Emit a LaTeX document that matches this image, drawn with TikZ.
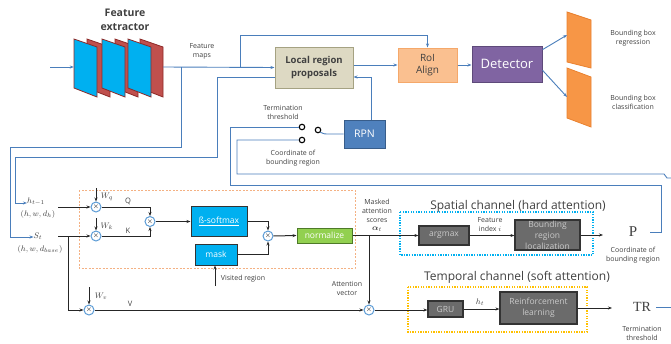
\documentclass[tikz,border=0pt]{standalone}
\usepackage{amsmath}
\usepackage{bm}
\usepackage{fontspec}
\setmainfont{Open Sans}
\newfontfamily\serifP{Liberation Serif}
\usetikzlibrary{arrows.meta}
\definecolor{lnblue}{HTML}{4A7EBB}
\definecolor{multblue}{HTML}{5B9BD5}
\definecolor{redpl}{HTML}{C0504D}
\definecolor{redbd}{HTML}{8E2A28}
\definecolor{cyanpl}{HTML}{00B0F0}
\definecolor{orpl}{HTML}{F79646}
\definecolor{orbd}{HTML}{E9812F}
\definecolor{lrpfill}{HTML}{DDD9C3}
\definecolor{lrpbd}{HTML}{A5A282}
\definecolor{roifill}{HTML}{FAC090}
\definecolor{roibd}{HTML}{F5A86A}
\definecolor{detfill}{HTML}{8064A2}
\definecolor{detbd}{HTML}{5E4A7A}
\definecolor{rpnfill}{HTML}{4F81BD}
\definecolor{rpnbd}{HTML}{385D8A}
\definecolor{normfill}{HTML}{92D050}
\definecolor{normbd}{HTML}{4E7A28}
\definecolor{gfill}{HTML}{6B6B6B}
\definecolor{gtext}{HTML}{C9C9C9}
\definecolor{dashor}{HTML}{F4B183}
\definecolor{dashyl}{HTML}{FFC000}
\definecolor{txt}{HTML}{404040}
\begin{document}
\begin{tikzpicture}[x=1pt,y=-1pt,
  bl/.style={draw=lnblue, line width=0.9pt},
  bk/.style={draw=black!85, line width=1pt},
  tip/.style={-{Stealth[length=4pt,width=3pt]}},
  mult/.style={circle, draw=multblue, fill=white, line width=1pt, minimum size=10pt, inner sep=0pt, font=\fontsize{7}{7}\selectfont},
  lbl/.style={font=\fontsize{7}{9}\selectfont, text=txt, align=center, inner sep=0pt},
  mlbl/.style={font=\fontsize{8.5}{10}\selectfont, text=txt, inner sep=0pt},
  gbox/.style={draw=black!80, fill=gfill, line width=1.2pt, text=gtext, align=center, inner sep=0pt, font=\fontsize{8.5}{11}\selectfont},
  cbox/.style={draw=black!80, fill=cyanpl, line width=1pt, text=white, align=center, inner sep=0pt, font=\fontsize{8.5}{10}\selectfont},
  plane/.style={line width=0.8pt}
]
\useasboundingbox (0,0) rectangle (671,343);

% ---------- top part ----------
\node[font=\bfseries\fontsize{10.5}{14}\selectfont, text=txt, align=center, inner sep=0pt] (fetitle) at (125,20) {Feature\\extractor};
\foreach \L in {140,115,87} {
  \filldraw[plane, fill=redpl, draw=redbd] (\L,39) -- (\L+23,47) -- (\L+23,97) -- (\L,88) -- cycle;
}
\foreach \L in {128,102,74} {
  \filldraw[plane, fill=cyanpl, draw=redbd] (\L,39) -- (\L+23,47) -- (\L+23,97) -- (\L,88) -- cycle;
}
\node[minimum width=89pt, minimum height=10pt, inner sep=0pt] (fe) at (118.5,67) {};
\coordinate (fin) at (50,67);
\draw[bl,tip] (fin) -- (fe.west);
\node[lbl] (fmaps) at (202,51) {Feature\\maps};

\node[draw=lrpbd, fill=lrpfill, line width=1pt, minimum width=78pt, minimum height=41pt, inner sep=0pt, align=center, text=txt, font=\bfseries\fontsize{9.5}{13}\selectfont] (lrp) at (314,67.5) {Local region\\proposals};
\node[draw=roibd, fill=roifill, line width=1pt, minimum width=59pt, minimum height=34pt, inner sep=0pt, align=center, text=txt, font=\fontsize{10}{12}\selectfont] (roi) at (427.5,65) {RoI\\Align};
\node[draw=detbd, fill=detfill, line width=1pt, minimum width=70pt, minimum height=36pt, inner sep=0pt, text=white, font=\fontsize{13}{15}\selectfont] (det) at (507,64) {Detector};
\node[draw=rpnbd, fill=rpnfill, line width=1pt, minimum width=41pt, minimum height=28pt, inner sep=0pt, text=white, font=\fontsize{10.5}{12}\selectfont] (rpn) at (364.5,134) {RPN};

\filldraw[plane, fill=orpl, draw=orbd] (567,12) -- (591,20) -- (591,68) -- (567,62) -- cycle;
\filldraw[plane, fill=orpl, draw=orbd] (567,68) -- (591,77) -- (591,127) -- (567,118) -- cycle;
\coordinate (pu) at (567,35);
\coordinate (pl) at (567,97);
\node[lbl] (bbr) at (633,38) {Bounding box\\regression};
\node[lbl] (bbc) at (633,102) {Bounding box\\classification};

% connectors top
\draw[bl,tip] (fe.east) -- (lrp.west);
\coordinate (b1) at (181,67);
\coordinate (b2) at (240,67);
\draw[bl,tip] (b2) -- (240,35) -- (roi.north |- 0,35) -- (roi.north);
\draw[bl,tip] (lrp.east |- roi.west) -- (roi.west);
\draw[bl,tip] (roi.east) -- (det.west |- roi.east);
\draw[bl,tip] (det.22) -- (pu);
\draw[bl,tip] (det.-10) -- (pl);
\draw[bl,tip] (rpn.north -| 371,0) -- (371,77) -- (lrp.east |- 0,77);

% switch
\node[circle, draw=black, line width=1.1pt, minimum size=5.5pt, inner sep=0pt] (c1) at (302,127) {};
\node[circle, draw=black, line width=1.1pt, minimum size=5.5pt, inner sep=0pt] (c2) at (318,130) {};
\node[circle, draw=black, line width=1.1pt, minimum size=5.5pt, inner sep=0pt] (c3) at (302,140) {};
\node[lbl] (tthr) at (283,112) {Termination\\threshold};
\node[lbl] (cbr) at (293,158) {Coordinate of\\bounding region};
\draw[bl] (c2.south east) .. controls (324,134) .. (330,134) -- (rpn.west |- 0,134);

% ---------- bottom part ----------
\draw[dashor, line width=0.7pt, dash pattern=on 2pt off 1.5pt] (79,190) rectangle (355,268);
\draw[cyanpl, line width=1.1pt, dash pattern=on 1.3pt off 1.3pt] (400,212) rectangle (593,255);
\draw[dashyl, line width=1.1pt, dash pattern=on 1.3pt off 1.3pt] (408,287) rectangle (587,332);

\node[font=\fontsize{12}{14}\selectfont, text=txt, inner sep=0pt] (sptitle) at (518,206) {Spatial channel (hard attention)};
\node[font=\fontsize{12}{14}\selectfont, text=txt, inner sep=0pt] (tmtitle) at (517,277) {Temporal channel (soft attention)};

\node[mlbl] (htop) at (36,202) {$h_{t-1}$};
\node[mlbl] (hdim) at (38,214) {$(h,w,d_{h})$};
\node[mlbl] (stop) at (38,236) {$S_t$};
\node[mlbl] (sdim) at (40,249) {$(h,w,d_{base})$};
\coordinate (h0) at (58,207);
\coordinate (s0) at (58,236);

\node[mult] (mq) at (96,207) {$\times$};
\node[mult] (mk) at (96,236) {$\times$};
\node[mult] (mqk) at (150,221.5) {$\times$};
\node[mult] (mm) at (268,236) {$\times$};
\node[mult] (mv) at (89,310) {$\times$};
\node[mult] (mav) at (369,310) {$\times$};

\node[cbox, minimum width=56pt, minimum height=30pt] (soft) at (219,221.5) {\underline{ß-softmax}};
\node[cbox, minimum width=42pt, minimum height=21pt] (mask) at (216,254.5) {mask};
\node[draw=normbd, fill=normfill, line width=1pt, minimum width=55pt, minimum height=15pt, inner sep=0pt, text=white, font=\fontsize{8.5}{10}\selectfont] (norm) at (324.5,235.5) {normalize};
\node[gbox, minimum width=50pt, minimum height=19pt] (argm) at (444,235.5) {argmax};
\node[gbox, minimum width=65pt, minimum height=30pt] (brl) at (547.5,235) {Bounding\\region\\localization};
\node[gbox, minimum width=35pt, minimum height=16pt] (gru) at (445.5,309) {GRU};
\node[gbox, minimum width=77pt, minimum height=32pt] (rl) at (538.5,308) {Reinforcement\\learning};

\node[mlbl] (wq) at (107,197) {$W_q$};
\node[mlbl] (wk) at (107,226) {$W_k$};
\node[mlbl] (wv) at (101,296) {$W_v$};
\node[lbl, font=\fontsize{7.5}{9}\selectfont] (lq) at (128,201) {Q};
\node[lbl, font=\fontsize{7.5}{9}\selectfont] (lk) at (128,231) {K};
\node[lbl, font=\fontsize{7.5}{9}\selectfont] (lv) at (130,304) {V};
\node[lbl] (vis) at (243,279) {Visited region};
\node[lbl] (mas) at (377,211) {Masked\\attention\\scores};
\node[mlbl] (alpha) at (377,229) {$\bm{\alpha}_t$};
\node[lbl] (attv) at (347,288) {Attention\\vector};
\node[lbl] (fidx) at (490,225) {Feature\\index $i$};
\node[mlbl] (htl) at (480,302) {$h_t$};

\node[font=\serifP\fontsize{15}{16}\selectfont, text=txt, inner sep=0pt] (P) at (633,232) {P};
\node[lbl] (pcap) at (633,255) {Coordinate of\\bounding region};
\node[font=\serifP\fontsize{14}{16}\selectfont, text=txt, inner sep=0pt] (TR) at (642,307) {TR};
\node[lbl] (trcap) at (642,333) {Termination\\threshold};
\coordinate (pin) at (603,235);
\coordinate (tin) at (612,308);

% black connectors
\coordinate (cW1) at (96,188);
\coordinate (cW2) at (96,218);
\coordinate (cW3) at (89,287);
\coordinate (cvis) at (215,286);
\draw[bk,tip] (h0) -- (mq.west);
\draw[bk,tip] (cW1) -- (mq.north);
\draw[bk,tip] (s0) -- (mk.west);
\draw[bk,tip] (cW2) -- (mk.north);
\draw[bk,tip] (mq.east) -- (150,207) -- (mqk.north);
\draw[bk,tip] (mk.east) -- (150,236) -- (mqk.south);
\draw[bk,tip] (mqk.east) -- (soft.west);
\draw[bk,tip] (soft.east) -- (mm.north |- soft.east) -- (mm.north);
\draw[bk,tip] (mask.east) -- (mm.south |- mask.east) -- (mm.south);
\draw[bk,tip] (cvis) -- (mask.south -| cvis);
\draw[bk,tip] (mm.east) -- (norm.west);
\draw[bk,tip] (norm.east) -- (argm.west);
\draw[bk,tip] (mav.north |- norm.east) -- (mav.north);
\draw[bk,tip] (68,236) -- (68,310) -- (mv.west);
\draw[bk,tip] (cW3) -- (mv.north);
\draw[bk,tip] (mv.east) -- (mav.west);
\draw[bk,tip] (mav.east) -- (gru.west |- mav.east);
\draw[bk,tip] (argm.east) -- (brl.west |- argm.east);
\draw[bk,tip] (gru.east) -- (rl.west |- gru.east);
\draw[bk,tip] (brl.east) -- (pin);
\draw[bk,tip] (rl.east |- tin) -- (tin);

% blue feedback lines
\draw[bl,tip] (b1) -- (181,147) -- (10,147) -- (10,237) -- (stop.west |- 0,237);
\draw[bl,tip] (lrp.west |- 0,77) -- (217,77) -- (217,157) -- (15,157) -- (15,203) -- (htop.west |- 0,203);
\draw[bl] (c1.west) -- (230,127) -- (230,185) -- (661,185) -- (661,232) -- (650,232);
\draw[bl] (c3.west) -- (237,140) -- (237,174) -- (664,174) -- (667,178) -- (671,178);
\draw[bl] (TR.east |- 0,307) ++(5,0) -- (671,307);
\end{tikzpicture}
\end{document}
